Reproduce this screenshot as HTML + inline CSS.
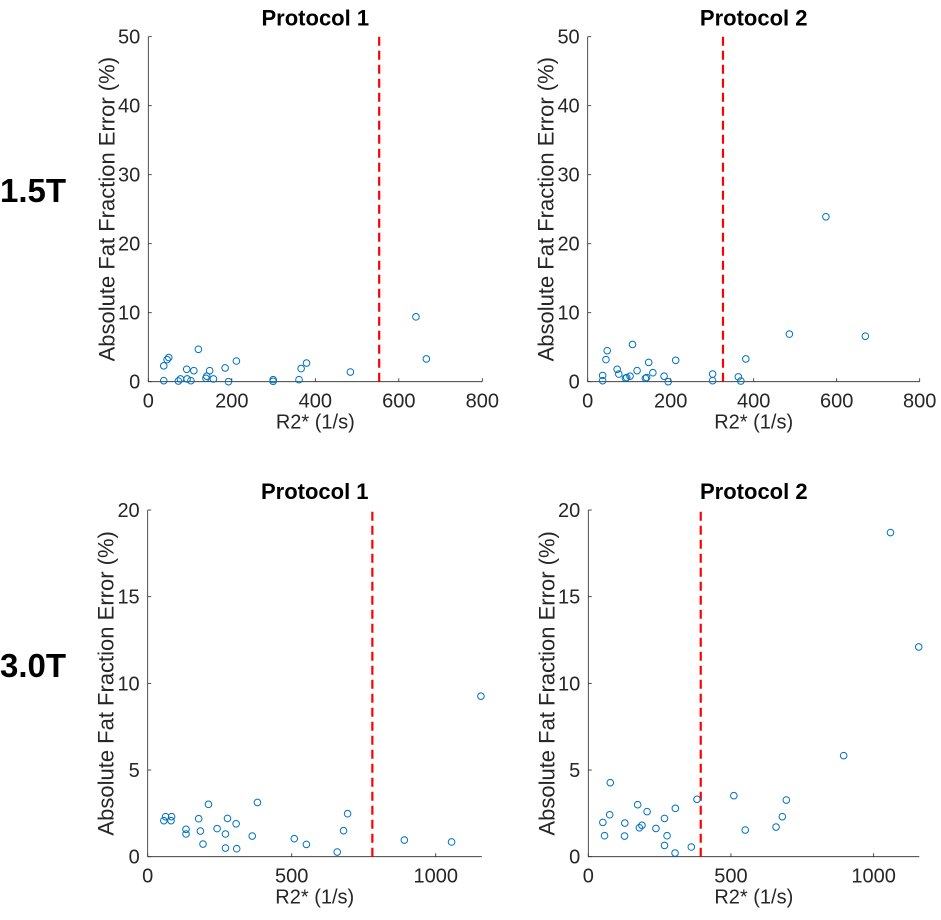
<!DOCTYPE html>
<html><head><meta charset="utf-8"><style>
body{margin:0;background:#fff;width:941px;height:920px;overflow:hidden}
svg{display:block;font-family:"Liberation Sans",Arial,sans-serif}
</style></head><body>
<svg id="fig" width="941" height="920" viewBox="0 0 941 920">
<text x="0" y="202" font-size="33" font-weight="bold" fill="#000">1.5T</text>
<text x="0" y="677" font-size="33" font-weight="bold" fill="#000">3.0T</text>
</svg>
<script>
const tlX=[37,37,45,49,72,77,92,93,102,109,120,138,140,147,156,184,192,211,299,299,361,366,379,484,641,666];
const tlY=[0.15,2.3,3.2,3.5,0.1,0.4,1.8,0.4,0.15,1.6,4.7,0.5,0.8,1.6,0.4,2.0,0,3.0,0.3,0.05,0.3,1.9,2.7,1.4,9.4,3.3];
const trX=[36,36,44,47,71,75,91,94,102,108,119,139,142,147,157,184,194,212,301,301,363,369,381,486,669,574];
const trY=[0.9,0.15,3.2,4.5,1.8,1.1,0.5,0.6,0.8,5.4,1.6,0.5,0.6,2.8,1.3,0.8,0,3.1,1.1,0.15,0.7,0.1,3.3,6.9,6.6,23.9];
const blX=[56,62,81,83,133,133,177,183,192,211,241,270,270,277,307,309,363,381,509,551,658,680,694,891,1055,1157];
const blY=[2.08,2.31,2.08,2.31,1.58,1.31,2.19,1.48,0.73,3.02,1.62,1.31,0.5,2.21,1.9,0.46,1.19,3.13,1.04,0.71,0.27,1.5,2.48,0.96,0.85,9.26];
const brX=[77,51,57,75,128,127,173,179,188,206,237,267,276,267,305,304,361,381,510,550,658,680,694,895,1059,1158];
const brY=[4.27,1.98,1.21,2.42,1.94,1.19,3.0,1.67,1.81,2.6,1.63,2.21,1.21,0.65,2.79,0.21,0.56,3.31,3.52,1.54,1.71,2.31,3.27,5.83,18.7,12.1];
const topXTicks=[0,200,400,600,800];
const topYTicks=[0,10,20,30,40,50];
const botXTicks=[0,500,1000];
const botYTicks=[0,5,10,15,20];
const cutoffs=[553,326,780,394];

const NS='http://www.w3.org/2000/svg';
const svg=document.getElementById('fig');
function mk(tag,attrs,parent){const e=document.createElementNS(NS,tag);for(const k in attrs)e.setAttribute(k,attrs[k]);(parent||svg).appendChild(e);return e;}

const panels=[
 {id:'top-left',title:'Protocol 1',x0:148.3,x1:482.3,xmax:800,y0:381.7,y1:36.7,ymax:50,xs:tlX,ys:tlY,xt:topXTicks,yt:topYTicks,cut:cutoffs[0]},
 {id:'top-right',title:'Protocol 2',x0:587.7,x1:919.7,xmax:800,y0:381.7,y1:36.7,ymax:50,xs:trX,ys:trY,xt:topXTicks,yt:topYTicks,cut:cutoffs[1]},
 {id:'bottom-left',title:'Protocol 1',x0:147.7,x1:481.8,xmax:1160,y0:856.7,y1:510,ymax:20,xs:blX,ys:blY,xt:botXTicks,yt:botYTicks,cut:cutoffs[2]},
 {id:'bottom-right',title:'Protocol 2',x0:588.3,x1:919.3,xmax:1160,y0:856.7,y1:510,ymax:20,xs:brX,ys:brY,xt:botXTicks,yt:botYTicks,cut:cutoffs[3]}
];
panels.forEach(p=>{
 const g=mk('g',{});
 
 
 const sx=v=>p.x0+(v/p.xmax)*(p.x1-p.x0);
 const sy=v=>p.y0-(v/p.ymax)*(p.y0-p.y1);
 const ax=mk('line',{x1:p.x0,y1:p.y0,x2:p.x1,y2:p.y0,stroke:'#262626','stroke-width':0.8},g);
 
 
 const ay=mk('line',{x1:p.x0,y1:p.y0,x2:p.x0,y2:p.y1,stroke:'#262626','stroke-width':0.8},g);
 
 
 p.xt.forEach(t=>{
  const x=sx(t);
  mk('line',{x1:x,y1:p.y0,x2:x,y2:p.y0-3.5,stroke:'#262626','stroke-width':0.8},g);
  const tx=mk('text',{x:x,y:p.y0+26,'font-size':20,'text-anchor':'middle',fill:'#262626'},g);
  tx.textContent=t;
  
  
 });
 p.yt.forEach(t=>{
  const y=sy(t);
  mk('line',{x1:p.x0,y1:y,x2:p.x0+3.5,y2:y,stroke:'#262626','stroke-width':0.8},g);
  const tx=mk('text',{x:p.x0-8,y:y+7,'font-size':20,'text-anchor':'end',fill:'#262626'},g);
  tx.textContent=t;
  
  
 });
 const cx=sx(p.cut);
 const cl=mk('line',{x1:cx,y1:p.y0,x2:cx,y2:p.y1,stroke:'#ff0000','stroke-width':2.2,'stroke-dasharray':'9,5'},g);
 
 
 p.xs.forEach((v,i)=>{
  const c=mk('circle',{cx:sx(v),cy:sy(p.ys[i]),r:3.3,fill:'none',stroke:'#0072BD','stroke-width':1},g);
  
  
 });
 const mid=(p.x0+p.x1)/2;
 const ti=mk('text',{x:mid,y:p.y1-11,'font-size':22,'font-weight':'bold','text-anchor':'middle',fill:'#000'},g);
 ti.textContent=p.title;
 
 
 const xl=mk('text',{x:mid,y:p.y0+47,'font-size':20,'text-anchor':'middle',fill:'#262626'},g);
 xl.textContent='R2* (1/s)';
 
 
 const ymid=(p.y0+p.y1)/2, xx=p.x0-34;
 const yl=mk('text',{x:xx,y:ymid,'font-size':22,'text-anchor':'middle',fill:'#262626',transform:`rotate(-90 ${xx} ${ymid})`},g);
 yl.textContent='Absolute Fat Fraction Error (%)';
 
 
});
</script>
</body></html>
